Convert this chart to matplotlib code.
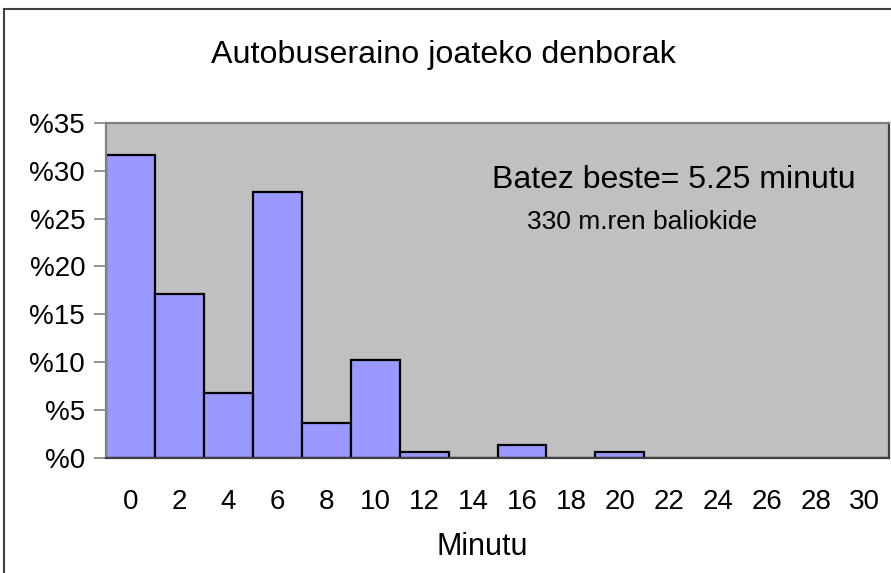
import matplotlib
matplotlib.use("Agg")
import matplotlib.pyplot as plt
from matplotlib.patches import Rectangle

plt.rcParams['font.family'] = ['Liberation Sans', 'DejaVu Sans']

# datuak
minutuak = [0, 2, 4, 6, 8, 10, 12, 14, 16, 18, 20, 22, 24, 26, 28, 30]
ehunekoak = [31.7, 17.1, 6.8, 27.8, 3.6, 10.2, 0.6, 0, 1.3, 0, 0.6, 0, 0, 0, 0, 0]
y_tikak = [0, 5, 10, 15, 20, 25, 30, 35]

fig = plt.figure(figsize=(8.91, 5.73), dpi=100)
ax = fig.add_axes([106 / 891, (573 - 457.5) / 573, (889 - 106) / 891, (457.5 - 123) / 573])

idx = list(range(len(minutuak)))
ax.bar(idx, ehunekoak, width=1.0, color='#9999FF', edgecolor='black', linewidth=1.6)
ax.set_facecolor('#C0C0C0')
ax.set_xlim(-0.5, len(minutuak) - 0.5)
ax.set_ylim(0, 35)

ax.set_xticks(idx)
ax.set_xticklabels([str(m) for m in minutuak], fontsize=20)
ax.tick_params(axis='x', length=0, pad=23)
ax.set_yticks(y_tikak)
ax.set_yticklabels(['%' + str(v) for v in y_tikak], fontsize=20)
ax.tick_params(axis='y', length=9, width=1.2, color='#808080', pad=6)

ax.spines['top'].set_color('#808080')
ax.spines['left'].set_color('#808080')
ax.spines['right'].set_color('#404040')
ax.spines['bottom'].set_color('#404040')
for s in ax.spines.values():
    s.set_linewidth(1.6)

fig.text(482 / 891, 1 - 547 / 573, 'Minutu', fontsize=22, ha='center', va='center')

fig.text(443 / 891, 1 - 55 / 573, 'Autobuseraino joateko denborak', fontsize=23.2,
         ha='center', va='center')
fig.text(674 / 891, 1 - 180 / 573, 'Batez beste= 5.25 minutu', fontsize=23,
         ha='center', va='center')
fig.text(642 / 891, 1 - 222 / 573, '330 m.ren baliokide', fontsize=19,
         ha='center', va='center')

fig.patches.append(Rectangle((4 / 891, -0.1), 1.2, 1 - 9 / 573 + 0.1,
                             transform=fig.transFigure, fill=False,
                             edgecolor='#404040', linewidth=1.5))

fig.savefig('out.png', dpi=100)
